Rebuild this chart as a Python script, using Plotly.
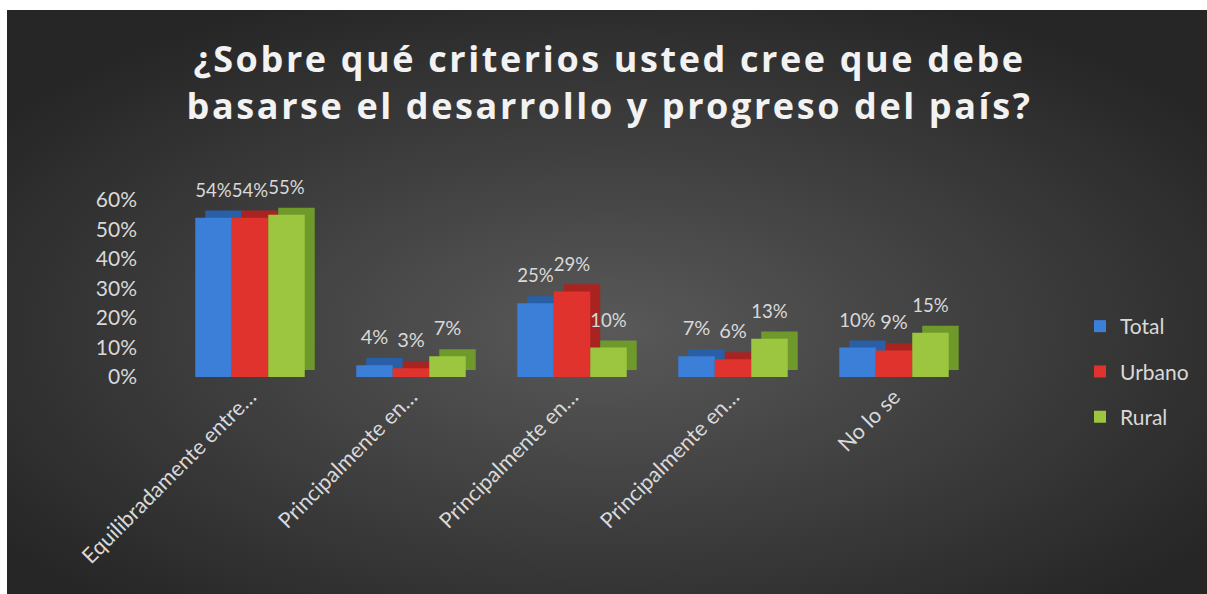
import base64
import plotly.graph_objects as go

# ---- data ----
categories = ["Equilibradamente entre…", "Principalmente en…", "Principalmente en…",
              "Principalmente en…", "No lo se"]
series_names = ["Total", "Urbano", "Rural"]
total = [0.54, 0.04, 0.25, 0.07, 0.10]
urbano = [0.54, 0.03, 0.29, 0.06, 0.09]
rural = [0.55, 0.07, 0.10, 0.13, 0.15]
y_ticks = [0, 0.1, 0.2, 0.3, 0.4, 0.5, 0.6]
y_tick_labels = ["0%", "10%", "20%", "30%", "40%", "50%", "60%"]

colors = ["#3B7FD9", "#E0332D", "#9CC63F"]
depth_colors = ["#285FA6", "#A92420", "#6F9A2B"]

W, H = 1207, 594
ML, MR, MT, MB = 138, 207, 180, 217
plot_w = W - ML - MR
plot_h = H - MT - MB

x_idx = list(range(len(categories)))

# 3D-look parameters (axis units)
group_w = 0.68
bar_w = group_w / 3
dx = 0.062   # depth, horizontal
dy = 0.024   # depth, vertical

all_vals = [total, urbano, rural]
fig = go.Figure()
# depth (back) faces
for k, (name, vals, dc) in enumerate(zip(series_names, all_vals, depth_colors)):
    fig.add_trace(go.Bar(
        x=x_idx, y=vals, base=dy, name=name,
        offset=-group_w / 2 + k * bar_w + dx, width=bar_w,
        marker=dict(color=dc, line=dict(width=0)),
        cliponaxis=False, showlegend=False, legendgroup=name, hoverinfo="skip",
    ))
# front faces
for k, (name, vals, col) in enumerate(zip(series_names, all_vals, colors)):
    fig.add_trace(go.Bar(
        x=x_idx, y=vals, name=name,
        offset=-group_w / 2 + k * bar_w, width=bar_w,
        marker=dict(color=col, line=dict(width=0)),
        cliponaxis=False, legendgroup=name,
    ))
# invisible carriers for the value labels (drawn last, above the top face)
for k, (name, vals) in enumerate(zip(series_names, all_vals)):
    fig.add_trace(go.Bar(
        x=x_idx, y=vals, base=2 * dy, name=name,
        offset=-group_w / 2 + k * bar_w, width=bar_w,
        marker=dict(color="rgba(0,0,0,0)", line=dict(width=0)),
        text=[f"{round(v*100)}%" for v in vals],
        textposition="outside",
        textfont=dict(family="Lato", size=20, color="#d9d9d9"),
        cliponaxis=False, showlegend=False, legendgroup=name, hoverinfo="skip",
    ))

# background gradient (SVG data URI)
svg = '''<svg xmlns="http://www.w3.org/2000/svg" width="1200" height="584" viewBox="0 0 1200 584">
<defs><radialGradient id="g" cx="50%" cy="55%" r="62%">
<stop offset="0%" stop-color="#595959"/><stop offset="100%" stop-color="#262626"/>
</radialGradient></defs><rect width="1200" height="584" fill="url(#g)"/></svg>'''
src = "data:image/svg+xml;base64," + base64.b64encode(svg.encode()).decode()

px0, py0 = 7, 10  # dark panel top-left in pixels
img_x = (px0 - ML) / plot_w
img_y = (H - MB - py0) / plot_h
img_w = (W - px0) / plot_w
img_h = (H - py0) / plot_h

fig.update_layout(
    width=W, height=H,
    margin=dict(l=ML, r=MR, t=MT, b=MB, autoexpand=False),
    paper_bgcolor="white",
    plot_bgcolor="rgba(0,0,0,0)",
    images=[dict(source=src, xref="paper", yref="paper", x=img_x, y=img_y,
                 sizex=img_w, sizey=img_h, sizing="stretch", layer="below",
                 xanchor="left", yanchor="top")],
    barmode="overlay",
    title=dict(
        text="¿Sobre qué criterios usted cree que debe<br>basarse el desarrollo y progreso del país?",
        font=dict(family="Open Sans", size=36, color="#f2f2f2", weight="bold"),
        x=0.505, xanchor="center", xref="container",
        y=1 - 72 / H, yanchor="middle", yref="container",
    ),
    font=dict(family="Lato", color="#d9d9d9"),
    xaxis=dict(
        tickvals=x_idx, ticktext=categories, tickangle=-45,
        range=[-(250 - ML) / 161, (W - MR - 250) / 161],
        showgrid=False, zeroline=False, showline=False, ticks="",
        tickfont=dict(family="Lato", size=21.5, color="#d9d9d9"),
        ticklabelstandoff=2,
    ),
    yaxis=dict(
        tickvals=y_ticks, ticktext=y_tick_labels,
        range=[0, 0.6 * plot_h / 177],
        showgrid=False, zeroline=False, showline=False, ticks="",
        tickfont=dict(family="Lato", size=21, color="#d9d9d9"),
        ticklabelstandoff=0,
    ),
    legend=dict(
        x=(1080 - ML) / plot_w, xanchor="left",
        y=(H - MB - 306) / plot_h, yanchor="top",
        font=dict(family="Lato", size=21, color="#d9d9d9"),
        bgcolor="rgba(0,0,0,0)", tracegroupgap=15,
        itemwidth=30,
    ),
)

post = """
document.body.style.margin='0';
document.querySelectorAll('.gtitle').forEach(function(e){e.style.letterSpacing='2.6px';});
"""
fig.write_html("out.html", post_script=post, config={"displayModeBar": False})
